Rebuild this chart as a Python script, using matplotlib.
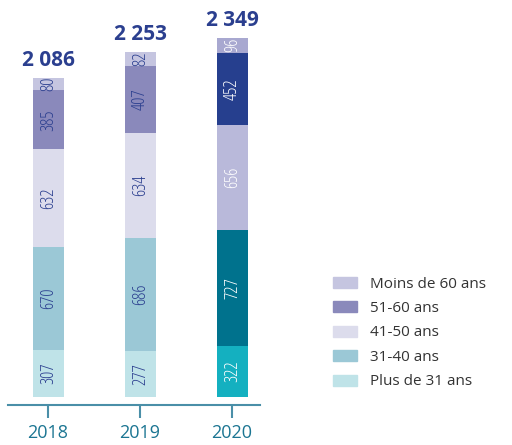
import numpy as np
import matplotlib.pyplot as plt
from matplotlib.patches import Patch

years = ['2018', '2019', '2020']
totals = [2086, 2253, 2349]
totals_txt = ['2 086', '2 253', '2 349']

# bottom -> top
groups = ['Plus de 31 ans', '31-40 ans', '41-50 ans', '51-60 ans', 'Moins de 60 ans']
plus31 = [307, 277, 322]
a31_40 = [670, 686, 727]
a41_50 = [632, 634, 656]
a51_60 = [385, 407, 452]
moins60 = [80, 82, 96]
series = [plus31, a31_40, a41_50, a51_60, moins60]

cols_old = ['#bfe3e8', '#9bc8d6', '#dcdcec', '#8a89bb', '#c5c5e0']
cols_new = ['#14b0c0', '#00728d', '#b9b9da', '#263f8e', '#a8a8d0']
navy = '#2b3f8f'
teal = '#1b7592'

plt.rcParams['font.family'] = ['Open Sans', 'DejaVu Sans']

fig = plt.figure(figsize=(5.12, 4.45), dpi=100)
ax = fig.add_axes([8/512, 40/445, 252/512, 400/445])

x = np.arange(len(years))
vals = np.array(series, dtype=float)
# the printed totals set the bar height, segments share it in proportion
scale = np.array(totals) / vals.sum(axis=0)
bottoms = np.zeros(len(years))
for i, g in enumerate(groups):
    h = vals[i] * scale
    for j in range(len(years)):
        c = cols_new[i] if j == 2 else cols_old[i]
        ax.bar(x[j], h[j], 0.337, bottom=bottoms[j], color=c, linewidth=0)
        tc = 'white' if j == 2 else navy
        ax.text(x[j], bottoms[j] + h[j] / 2, str(series[i][j]), rotation=90,
                ha='center', va='center', color=tc, fontsize=13,
                fontstretch='condensed')
    bottoms += h

for j in range(len(years)):
    ax.annotate(totals_txt[j], (x[j], bottoms[j]), xytext=(0, 5),
                textcoords='offset points', ha='center', va='bottom',
                color=navy, fontsize=15, fontweight='bold')

ax.set_xlim(-0.435, 2.304)
ax.set_ylim(-52, 2562)
for s in ['top', 'right', 'left']:
    ax.spines[s].set_visible(False)
ax.spines['bottom'].set_color('#4a8fa8')
ax.spines['bottom'].set_linewidth(1.5)
ax.set_yticks([])
ax.set_xticks(x)
ax.set_xticklabels(years)
ax.tick_params(axis='x', length=9, width=1.5, color='#4a8fa8', labelcolor=teal,
               labelsize=13, pad=5)

handles = [Patch(color=cols_old[i]) for i in range(len(groups))][::-1]
fig.legend(handles, groups[::-1], loc='center left',
           bbox_to_anchor=(333/512, 1 - 333/445), frameon=False,
           borderpad=0, borderaxespad=0, fontsize=11, handlelength=1.6,
           handleheight=0.75, handletextpad=0.8, labelspacing=0.62,
           labelcolor='#333333')

fig.savefig('out.png', dpi=100)
